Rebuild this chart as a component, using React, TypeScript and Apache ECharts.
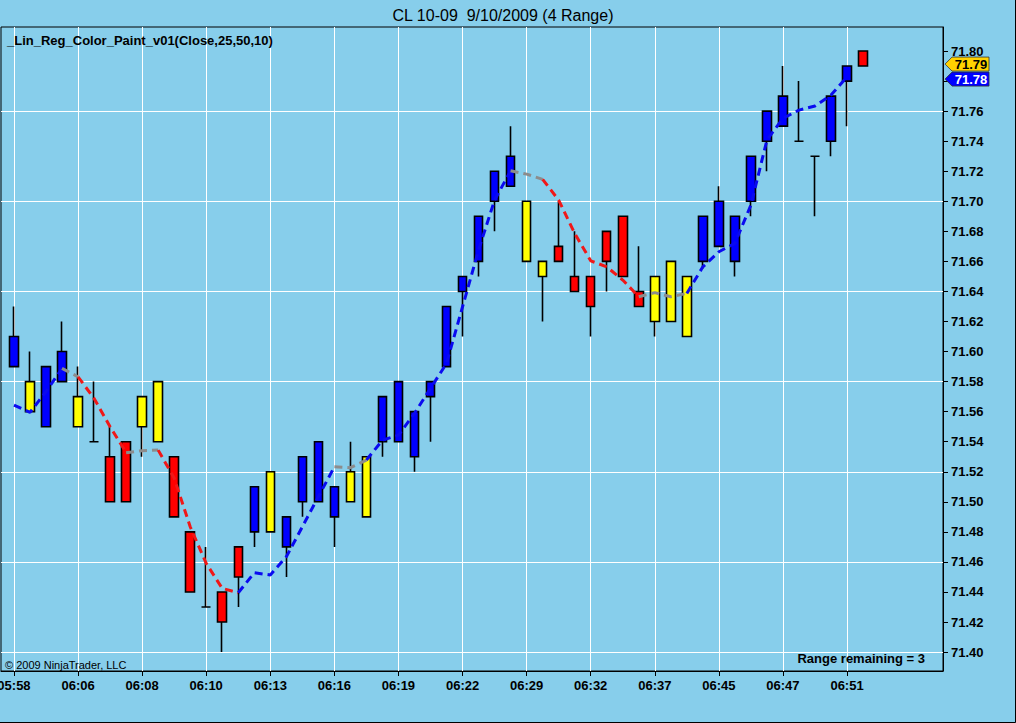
import React, { useEffect, useRef } from "react";
import * as echarts from "echarts";

// ---------- texts ----------
const chartTitle = "CL 10-09  9/10/2009 (4 Range)";
const indicatorLabel = "_Lin_Reg_Color_Paint_v01(Close,25,50,10)";
const copyrightText = "© 2009 NinjaTrader, LLC";
const statusText = "Range remaining = 3";

// ---------- bars (one per 4-tick range bar) ----------
const opens = [
  71.59, 71.56, 71.55, 71.58, 71.55, 71.54, 71.53, 71.54, 71.55, 71.54,
  71.53, 71.48, 71.43, 71.44, 71.47, 71.48, 71.48, 71.47, 71.50, 71.50,
  71.49, 71.50, 71.49, 71.54, 71.54, 71.53, 71.57, 71.59, 71.64, 71.66,
  71.70, 71.71, 71.66, 71.65, 71.67, 71.65, 71.65, 71.68, 71.69, 71.64,
  71.62, 71.62, 71.61, 71.66, 71.67, 71.66, 71.70, 71.74, 71.75, 71.74,
  71.73, 71.74, 71.78, 71.80,
];
const closes = [
  71.61, 71.58, 71.59, 71.60, 71.57, 71.54, 71.50, 71.50, 71.57, 71.58,
  71.49, 71.44, 71.43, 71.42, 71.45, 71.51, 71.52, 71.49, 71.53, 71.54,
  71.51, 71.52, 71.53, 71.57, 71.58, 71.56, 71.58, 71.63, 71.65, 71.69,
  71.72, 71.73, 71.70, 71.66, 71.66, 71.64, 71.63, 71.66, 71.65, 71.63,
  71.65, 71.66, 71.65, 71.69, 71.70, 71.69, 71.73, 71.76, 71.77, 71.74,
  71.73, 71.77, 71.79, 71.79,
];
const lows = [
  71.59, 71.56, 71.55, 71.58, 71.55, 71.54, 71.50, 71.50, 71.53, 71.54,
  71.49, 71.44, 71.43, 71.40, 71.43, 71.47, 71.48, 71.45, 71.49, 71.50,
  71.47, 71.50, 71.49, 71.53, 71.54, 71.52, 71.54, 71.59, 71.61, 71.65,
  71.68, 71.71, 71.66, 71.62, 71.66, 71.64, 71.61, 71.64, 71.65, 71.63,
  71.61, 71.62, 71.61, 71.655, 71.67, 71.65, 71.69, 71.72, 71.75, 71.74,
  71.69, 71.73, 71.75, 71.79,
];
const highs = [
  71.63, 71.60, 71.59, 71.62, 71.59, 71.58, 71.55, 71.54, 71.57, 71.58,
  71.53, 71.48, 71.47, 71.44, 71.47, 71.51, 71.52, 71.49, 71.53, 71.54,
  71.51, 71.54, 71.53, 71.57, 71.58, 71.56, 71.58, 71.63, 71.65, 71.69,
  71.72, 71.75, 71.70, 71.66, 71.70, 71.68, 71.65, 71.68, 71.69, 71.67,
  71.65, 71.66, 71.65, 71.69, 71.71, 71.69, 71.73, 71.76, 71.79, 71.78,
  71.73, 71.77, 71.79, 71.80,
];
// paint of each bar: B = blue (up), Y = yellow (flat), R = red (down)
const barPaint = [
  "B", "Y", "B", "B", "Y", "Y", "R", "R", "Y", "Y",
  "R", "R", "R", "R", "R", "B", "Y", "B", "B", "B",
  "B", "Y", "Y", "B", "B", "B", "B", "B", "B", "B",
  "B", "B", "Y", "Y", "R", "R", "R", "R", "R", "R",
  "Y", "Y", "Y", "B", "B", "B", "B", "B", "B", "B",
  "B", "B", "B", "R",
];

// ---------- linear regression line ----------
const linRegValues = [
  71.5644, 71.5595, 71.5733, 71.5888, 71.5832, 71.5688, 71.5500, 71.5327, 71.5340, 71.5344,
  71.5158, 71.4834, 71.4590, 71.4424, 71.4395, 71.4528, 71.4513, 71.4634, 71.4834, 71.5034,
  71.5233, 71.5227, 71.5278, 71.5410, 71.5444, 71.5589, 71.5755, 71.5921, 71.6298, 71.6676,
  71.7008, 71.7203, 71.7181, 71.7146, 71.7008, 71.6787, 71.6604, 71.6564, 71.6476, 71.6365,
  71.6392, 71.6365, 71.6387, 71.6564, 71.6664, 71.6720, 71.6975, 71.7408, 71.7552, 71.7607,
  71.7634, 71.7707, 71.7829, null,
];
// colour of the segment that ends at each bar (B blue, R red, G gray)
const linRegTrend = [
  "", "B", "B", "B", "G", "R", "R", "R", "G", "G",
  "R", "R", "R", "R", "R", "B", "B", "B", "B", "B",
  "B", "G", "G", "B", "B", "B", "B", "B", "B", "B",
  "B", "B", "G", "G", "R", "R", "R", "R", "R", "R",
  "G", "G", "G", "B", "B", "B", "B", "B", "B", "B",
  "B", "B", "B", "",
];

// ---------- axes ----------
const timeTickBars = [0, 4, 8, 12, 16, 20, 24, 28, 32, 36, 40, 44, 48, 52];
const timeTickLabels = [
  "05:58", "06:06", "06:08", "06:10", "06:13", "06:16", "06:19",
  "06:22", "06:29", "06:32", "06:37", "06:45", "06:47", "06:51",
];
const priceTicks = [
  71.40, 71.42, 71.44, 71.46, 71.48, 71.50, 71.52, 71.54, 71.56, 71.58, 71.60,
  71.62, 71.64, 71.66, 71.68, 71.70, 71.72, 71.74, 71.76, 71.78, 71.80,
];
const priceGridLines = [71.40, 71.46, 71.52, 71.58, 71.64, 71.70, 71.76];
const priceMarkerValues = [71.79, 71.78];
const priceMarkerKinds = ["Y", "B"];

const paintColors: Record<string, string> = { B: "#0000FF", Y: "#FFFF00", R: "#FF0000" };
const lineColors: Record<string, string> = { B: "#0A0AF0", R: "#F01818", G: "#8C8C8C" };
const markerBg: Record<string, string> = { Y: "#FFD200", B: "#0000FF" };
const markerFg: Record<string, string> = { Y: "#000000", B: "#FFFFFF" };

const W = 1016;
const H = 723;
const BG = "#87CEEB";
const FONT = "Arial, 'Liberation Sans', sans-serif";
const GRID = { left: 1, top: 27, right: 73, bottom: 52 };

export default function App() {
  const ref = useRef<HTMLDivElement>(null);

  useEffect(() => {
    const el = ref.current;
    if (!el) return;
    const chart = echarts.init(el, undefined, { renderer: "svg" });

    const candleData = opens.map((o, i) => {
      const c = paintColors[barPaint[i]];
      return {
        value: [i, o, closes[i], lows[i], highs[i]],
        itemStyle: {
          color: c,
          color0: c,
          borderColor: "#000",
          borderColor0: "#000",
          borderColorDoji: "#000",
        },
      };
    });

    // split regression line into runs of equal colour
    const runs: { trend: string; pts: number[][] }[] = [];
    for (let i = 1; i < linRegValues.length; i++) {
      const t = linRegTrend[i];
      const a = linRegValues[i - 1];
      const b = linRegValues[i];
      if (!t || a == null || b == null) continue;
      const last = runs[runs.length - 1];
      if (last && last.trend === t && last.pts[last.pts.length - 1][0] === i - 1) {
        last.pts.push([i, b]);
      } else {
        runs.push({ trend: t, pts: [[i - 1, a], [i, b]] });
      }
    }
    const lineSeries = runs.map((r) => ({
      type: "line",
      data: r.pts,
      symbol: "none",
      showSymbol: false,
      silent: true,
      z: 5,
      lineStyle: { color: lineColors[r.trend], width: 3, type: [8, 5], cap: "butt" },
    }));

    // gridlines drawn through the axes' scales
    const gridSeries = {
      type: "line",
      data: [],
      silent: true,
      z: 1,
      markLine: {
        silent: true,
        symbol: ["none", "none"],
        label: { show: false },
        z: 1,
        lineStyle: { color: "#FFFFFF", width: 1, type: "solid" },
        emphasis: { disabled: true },
        data: [
          ...timeTickBars.map((x) => ({ xAxis: x })),
          ...priceGridLines.map((y) => ({ yAxis: y })),
        ],
      },
    };

    const labelTicks = priceTicks.filter(
      (p) => !priceMarkerValues.slice(1).some((m) => Math.abs(m - p) < 1e-9)
    );

    chart.setOption({
      animation: false,
      backgroundColor: BG,
      grid: {
        ...GRID,
        containLabel: false,
        outerBoundsMode: "none",
        show: true,
        borderColor: "#000",
        borderWidth: 1,
        backgroundColor: "transparent",
      },
      xAxis: {
        type: "value",
        min: -0.81,
        max: 57.99,
        position: "bottom",
        axisLine: { show: true, onZero: false, lineStyle: { color: "#000", width: 1 } },
        axisTick: { show: true, customValues: timeTickBars, length: 5, lineStyle: { color: "#000" } },
        axisLabel: {
          show: true,
          customValues: timeTickBars,
          formatter: (v: number) => {
            const k = timeTickBars.indexOf(Math.round(v));
            return k >= 0 ? timeTickLabels[k] : "";
          },
          color: "#000",
          fontWeight: "bold",
          fontSize: 13,
          fontFamily: FONT,
          margin: 8,
        },
        splitLine: { show: false },
      },
      yAxis: {
        type: "value",
        position: "right",
        min: 71.3874,
        max: 71.816,
        scale: true,
        axisLine: { show: true, onZero: false, lineStyle: { color: "#000", width: 1 } },
        axisTick: { show: true, customValues: priceTicks, length: 5, lineStyle: { color: "#000" } },
        axisLabel: {
          show: true,
          customValues: labelTicks,
          formatter: (v: number) => v.toFixed(2),
          color: "#000",
          fontWeight: "bold",
          fontSize: 13,
          fontFamily: FONT,
          margin: 8,
        },
        splitLine: { show: false },
      },
      series: [
        gridSeries,
        {
          type: "candlestick",
          data: candleData,
          barWidth: 9,
          silent: true,
          z: 3,
          itemStyle: { borderWidth: 1.6, borderColor: "#000", borderColor0: "#000", borderColorDoji: "#000" },
        },
        ...lineSeries,
      ],
    });

    // price markers on the right axis, placed through the y scale
    const axisX = W - GRID.right + 2;
    const graphics: any[] = [
      {
        type: "text",
        x: 503,
        y: 15,
        style: { text: chartTitle, fill: "#000", font: `16px ${FONT}`, textAlign: "center", textVerticalAlign: "middle" },
      },
      {
        type: "text",
        x: 7,
        y: 40,
        z: 10,
        style: { text: indicatorLabel, fill: "#000", font: `bold 13px ${FONT}`, textAlign: "left", textVerticalAlign: "middle" },
      },
      {
        type: "text",
        x: 5,
        y: 665,
        z: 10,
        style: { text: copyrightText, fill: "#000", font: `11px ${FONT}`, textAlign: "left", textVerticalAlign: "middle" },
      },
      {
        type: "text",
        x: 925,
        y: 658,
        z: 10,
        style: { text: statusText, fill: "#000", font: `bold 13px ${FONT}`, textAlign: "right", textVerticalAlign: "middle" },
      },
      {
        type: "polyline",
        z: 10,
        shape: { points: [[W - 0.5, 0], [W - 0.5, H - 0.5], [0, H - 0.5]] },
        style: { stroke: "#000", lineWidth: 1, fill: "none" },
      },
    ];
    let prevY = -Infinity;
    priceMarkerValues.forEach((v, k) => {
      let py = (chart.convertToPixel({ yAxisIndex: 0 }, v) as number) - 2;
      if (py < prevY + 14.5) py = prevY + 14.5;
      prevY = py;
      const kind = priceMarkerKinds[k];
      graphics.push({
        type: "polygon",
        z: 20,
        shape: {
          points: [
            [axisX, py],
            [axisX + 7, py - 7],
            [axisX + 44, py - 7],
            [axisX + 44, py + 7],
            [axisX + 7, py + 7],
          ],
        },
        style: { fill: markerBg[kind], stroke: "#333", lineWidth: 0.8 },
      });
      graphics.push({
        type: "text",
        z: 21,
        x: axisX + 26,
        y: py + 0.5,
        style: {
          text: v.toFixed(2),
          fill: markerFg[kind],
          font: `bold 13px ${FONT}`,
          textAlign: "center",
          textVerticalAlign: "middle",
        },
      });
    });
    chart.setOption({ graphic: graphics });

    return () => chart.dispose();
  }, []);

  return (
    <div
      ref={ref}
      style={{ position: "fixed", left: 0, top: 0, width: W, height: H, background: BG }}
    />
  );
}
